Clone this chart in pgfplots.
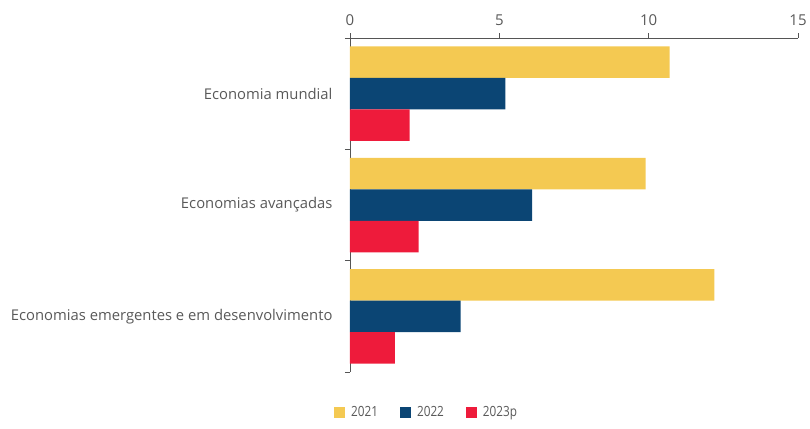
\documentclass[border=0pt]{standalone}
\usepackage{fontspec}
\setmainfont{Open Sans}
\newfontfamily\condfont{Open Sans}[FakeStretch=0.84]
\usepackage{pgfplots}
\pgfplotsset{compat=1.18}
\definecolor{c2021}{HTML}{F4C952}
\definecolor{c2022}{HTML}{0B4574}
\definecolor{c2023}{HTML}{EE1B3B}
\definecolor{txt}{HTML}{595959}
\definecolor{axl}{HTML}{555555}
\begin{document}
\begin{tikzpicture}
\useasboundingbox (-350pt,-56pt) rectangle (460pt,372pt);
\begin{axis}[
    scale only axis,
    width=448pt, height=334pt,
    xbar, bar width=31.5pt,
    xmin=0, xmax=15,
    ymin=-0.5, ymax=2.5,
    y dir=reverse,
    axis x line*=top,
    axis y line*=left,
    axis line style={axl, line width=0.8pt},
    tick style={axl, line width=0.8pt},
    tick align=outside,
    major tick length=5pt,
    minor tick length=5pt,
    xtick={0,5,10,15},
    ytick={0,1,2},
    minor ytick={-0.5,0.5,1.5,2.5},
    major y tick style={draw=none},
    yticklabels={Economia mundial, Economias avançadas, Economias emergentes e em desenvolvimento},
    /pgf/number format/assume math mode=true,
    xticklabel style={font=\fontsize{15}{15}\selectfont, text=txt, yshift=4pt},
    yticklabel style={font=\fontsize{14.8}{15}\selectfont, text=txt, xshift=-9pt},
    legend style={at={(0.171,-0.12)}, anchor=center, draw=none,
        legend columns=3, font=\condfont\fontsize{14}{14}\selectfont, text=txt,
        /tikz/every odd column/.append style={column sep=4pt},
        /tikz/every even column/.append style={column sep=20pt}},
    legend image code/.code={\draw[#1, draw=none] (0pt,-5.5pt) rectangle (11pt,5.5pt);},
]
\addplot[fill=c2021, draw=none, bar shift=31.5pt] coordinates {(10.7,0) (9.9,1) (12.2,2)};
\addplot[fill=c2022, draw=none, bar shift=0pt] coordinates {(5.2,0) (6.1,1) (3.7,2)};
\addplot[fill=c2023, draw=none, bar shift=-31.5pt] coordinates {(2.0,0) (2.3,1) (1.5,2)};
\legend{2021, 2022, 2023p}
\end{axis}
\end{tikzpicture}
\end{document}
